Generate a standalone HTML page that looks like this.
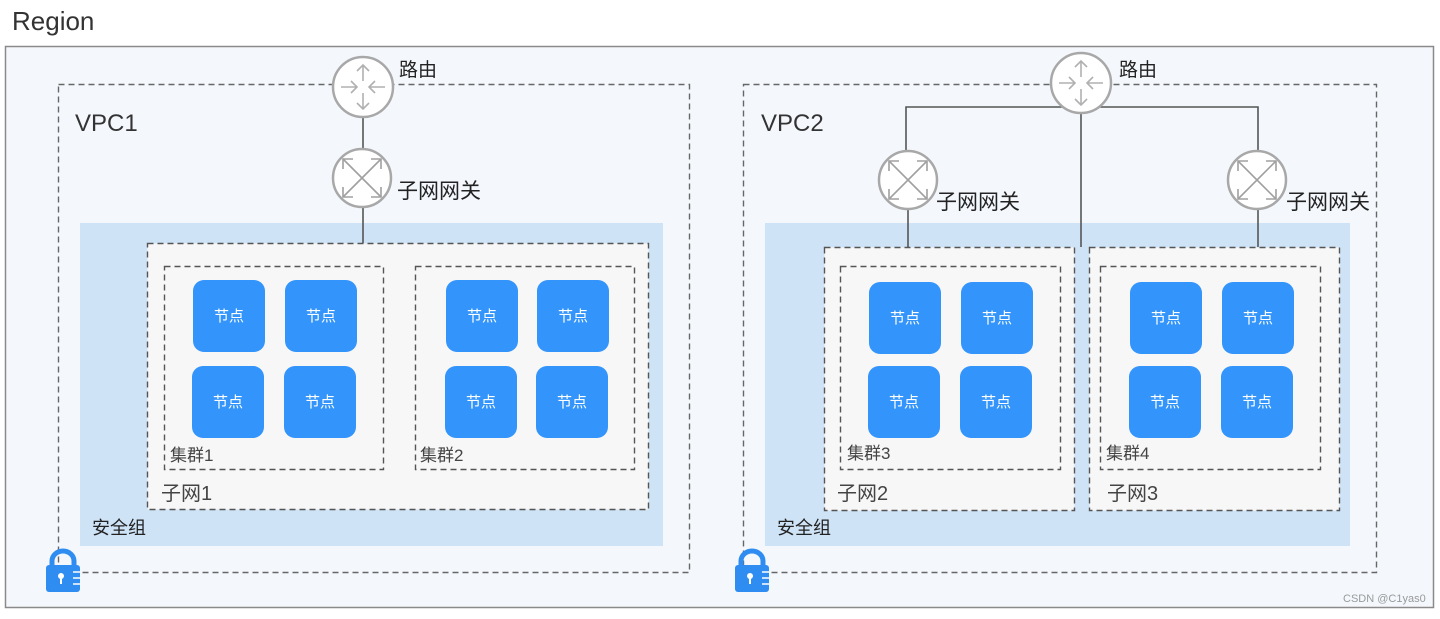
<!DOCTYPE html>
<html><head><meta charset="utf-8"><style>
html,body{margin:0;padding:0;background:#fff;}
svg text{font-family:"Liberation Sans","Noto Sans CJK SC",sans-serif;}
</style></head><body>
<svg width="1440" height="614" viewBox="0 0 1440 614" xmlns="http://www.w3.org/2000/svg">
<defs>
<symbol id="router" viewBox="-32 -32 64 64" overflow="visible">
<circle r="30" fill="#fff" stroke="#a8a8a8" stroke-width="2.5"/>
<g stroke="#b0b0b0" stroke-width="1.6" fill="none">
<path d="M0 -6 V-22 M-6 -16 L0 -22 L6 -16"/>
<path d="M0 6 V22 M-6 16 L0 22 L6 16"/>
<path d="M-22 0 H-6 M-12 -6 L-6 0 L-12 6"/>
<path d="M22 0 H6 M12 -6 L6 0 L12 6"/>
</g>
</symbol>
<symbol id="gw" viewBox="-32 -32 64 64" overflow="visible">
<circle r="29" fill="#fff" stroke="#a8a8a8" stroke-width="2.5"/>
<g stroke="#a0a0a0" stroke-width="1.6" fill="none">
<path d="M-19 -19 L19 19 M19 -19 L-19 19"/>
<path d="M-19 -9 L-19 -19 L-9 -19 M19 -9 L19 -19 L9 -19 M-19 9 L-19 19 L-9 19 M19 9 L19 19 L9 19"/>
</g>
</symbol>
<symbol id="lock" viewBox="0 0 34 42" overflow="visible">
<path d="M6 17 V11 A11 10 0 0 1 28 11 V17" fill="none" stroke="#2f8cf0" stroke-width="5"/>
<rect x="0" y="15" width="34" height="27" rx="3" fill="#2f8cf0"/>
<circle cx="15" cy="26" r="3" fill="#fff"/><rect x="14" y="27" width="2" height="7" fill="#fff"/>
<path d="M27 22 H34 M27 28 H34 M27 34 H34" stroke="#fff" stroke-width="1.5"/>
</symbol>
<symbol id="node" viewBox="0 0 72 72">
<rect width="72" height="72" rx="11" fill="#3395fb"/>
<text x="36" y="41" text-anchor="middle" font-size="15" fill="#fff">节点</text>
</symbol>
</defs>

<text x="12" y="30" font-size="26" fill="#333">Region</text>
<rect x="5.5" y="46.5" width="1428" height="561" fill="#f4f8fd" stroke="#8a8a8a" stroke-width="1.5"/>

<!-- VPC1 -->
<rect x="58.5" y="84.5" width="631" height="488" fill="none" stroke="#666" stroke-width="1.4" stroke-dasharray="6,4"/>
<text x="75" y="131" font-size="24" fill="#333">VPC1</text>
<rect x="80" y="223" width="583" height="323" fill="#cfe3f7"/>
<text x="92" y="534" font-size="18" fill="#222">安全组</text>
<line x1="363" y1="117" x2="363" y2="243" stroke="#555" stroke-width="1.6"/>
<rect x="147.5" y="243.5" width="501" height="266" fill="#f7f7f7" stroke="#555" stroke-width="1.4" stroke-dasharray="6,4"/>
<text x="161" y="500" font-size="20" fill="#444">子网1</text>
<rect x="164.5" y="266.5" width="219" height="203" fill="none" stroke="#555" stroke-width="1.4" stroke-dasharray="6,4"/>
<text x="170" y="461" font-size="17" fill="#444">集群1</text>
<rect x="415.5" y="266.5" width="219" height="203" fill="none" stroke="#555" stroke-width="1.4" stroke-dasharray="6,4"/>
<text x="420" y="461" font-size="17" fill="#444">集群2</text>
<use href="#node" x="193" y="280" width="72" height="72"/>
<use href="#node" x="285" y="280" width="72" height="72"/>
<use href="#node" x="192" y="366" width="72" height="72"/>
<use href="#node" x="284" y="366" width="72" height="72"/>
<use href="#node" x="446" y="280" width="72" height="72"/>
<use href="#node" x="537" y="280" width="72" height="72"/>
<use href="#node" x="445" y="366" width="72" height="72"/>
<use href="#node" x="536" y="366" width="72" height="72"/>
<use href="#router" x="331" y="55" width="64" height="64"/>
<text x="399" y="76" font-size="19" fill="#222">路由</text>
<use href="#gw" x="330" y="146" width="64" height="64"/>
<text x="397" y="198" font-size="21" fill="#222">子网网关</text>
<use href="#lock" x="46" y="550" width="34" height="42"/>

<!-- VPC2 -->
<rect x="743.5" y="84.5" width="633" height="488" fill="none" stroke="#666" stroke-width="1.4" stroke-dasharray="6,4"/>
<text x="761" y="131" font-size="24" fill="#333">VPC2</text>
<rect x="765" y="223" width="585" height="323" fill="#cfe3f7"/>
<text x="777" y="534" font-size="18" fill="#222">安全组</text>
<g stroke="#555" stroke-width="1.6" fill="none">
<path d="M906 150 V107 H1081 H1258 V150"/>
<line x1="1081" y1="110" x2="1081" y2="247"/>
<line x1="908" y1="205" x2="908" y2="247"/>
<line x1="1258" y1="205" x2="1258" y2="247"/>
</g>
<rect x="824.5" y="247.5" width="250" height="263" fill="#f7f7f7" stroke="#555" stroke-width="1.4" stroke-dasharray="6,4"/>
<text x="837" y="500" font-size="20" fill="#444">子网2</text>
<rect x="1089.5" y="247.5" width="250" height="263" fill="#f7f7f7" stroke="#555" stroke-width="1.4" stroke-dasharray="6,4"/>
<text x="1107" y="500" font-size="20" fill="#444">子网3</text>
<rect x="840.5" y="266.5" width="220" height="203" fill="none" stroke="#555" stroke-width="1.4" stroke-dasharray="6,4"/>
<text x="847" y="459" font-size="17" fill="#444">集群3</text>
<rect x="1100.5" y="266.5" width="220" height="203" fill="none" stroke="#555" stroke-width="1.4" stroke-dasharray="6,4"/>
<text x="1106" y="459" font-size="17" fill="#444">集群4</text>
<use href="#node" x="869" y="282" width="72" height="72"/>
<use href="#node" x="961" y="282" width="72" height="72"/>
<use href="#node" x="868" y="366" width="72" height="72"/>
<use href="#node" x="960" y="366" width="72" height="72"/>
<use href="#node" x="1130" y="282" width="72" height="72"/>
<use href="#node" x="1222" y="282" width="72" height="72"/>
<use href="#node" x="1129" y="366" width="72" height="72"/>
<use href="#node" x="1221" y="366" width="72" height="72"/>
<use href="#router" x="1049" y="51" width="64" height="64"/>
<text x="1119" y="76" font-size="19" fill="#222">路由</text>
<use href="#gw" x="876" y="148" width="64" height="64"/>
<text x="936" y="209" font-size="21" fill="#222">子网网关</text>
<use href="#gw" x="1225" y="148" width="64" height="64"/>
<text x="1286" y="209" font-size="21" fill="#222">子网网关</text>
<use href="#lock" x="735" y="550" width="34" height="42"/>

<text x="1343" y="602" font-size="11" fill="#999">CSDN @C1yas0</text>
</svg>
</body></html>
